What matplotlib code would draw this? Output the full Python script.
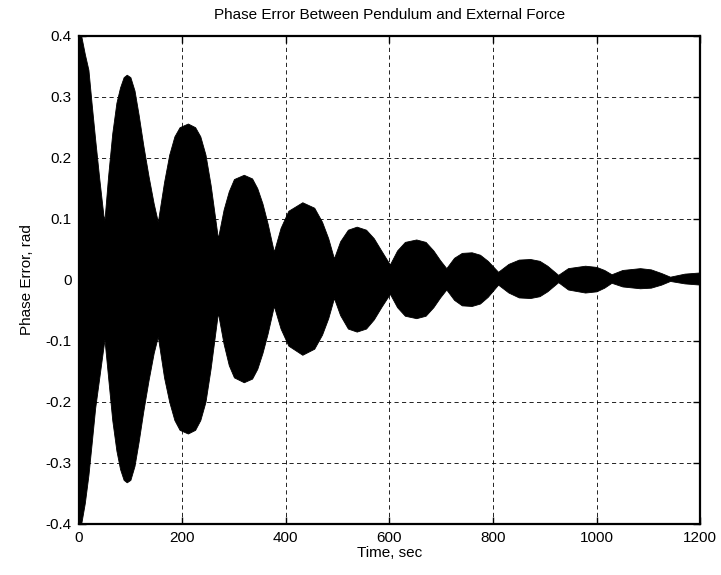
import numpy as np
import matplotlib
matplotlib.use('Agg')
import matplotlib.pyplot as plt

# Envelope of the phase error signal (time in sec, rad)
t_env = [0, 5, 12, 19, 25, 32, 40, 48, 50, 57, 65, 73, 80, 87, 93, 100, 108, 116, 125, 135, 145,
         153, 165, 175, 185, 195, 211, 225, 235, 245, 255,
         269, 280, 290, 300, 319, 335, 345, 355, 365,
         377, 390, 405, 432, 455, 470, 482,
         493, 505, 520, 537, 555, 570, 585,
         601, 615, 630, 652, 670, 685, 698,
         710, 725, 740, 759, 775, 790,
         810, 830, 850, 872, 890, 905,
         926, 945, 978, 1000, 1015,
         1029, 1050, 1084, 1105, 1125,
         1142, 1170, 1200]
upper = [0.40, 0.40, 0.37, 0.344, 0.29, 0.23, 0.165, 0.105, 0.098, 0.17, 0.24, 0.29, 0.315, 0.332, 0.336, 0.332, 0.31, 0.27, 0.22, 0.17, 0.125,
         0.095, 0.16, 0.205, 0.235, 0.25, 0.256, 0.25, 0.235, 0.205, 0.155,
         0.068, 0.115, 0.145, 0.165, 0.172, 0.166, 0.15, 0.125, 0.092,
         0.046, 0.085, 0.113, 0.127, 0.118, 0.095, 0.068,
         0.035, 0.063, 0.082, 0.087, 0.082, 0.068, 0.047,
         0.025, 0.048, 0.062, 0.066, 0.062, 0.048, 0.032,
         0.019, 0.036, 0.044, 0.045, 0.041, 0.031,
         0.013, 0.026, 0.033, 0.034, 0.031, 0.023,
         0.008, 0.019, 0.023, 0.021, 0.016,
         0.009, 0.016, 0.019, 0.017, 0.011,
         0.005, 0.01, 0.012]
lower = [-0.40, -0.40, -0.366, -0.32, -0.27, -0.21, -0.16, -0.11, -0.098, -0.16, -0.23, -0.28, -0.31, -0.328, -0.332, -0.328, -0.305, -0.265, -0.215, -0.165, -0.12,
         -0.093, -0.16, -0.2, -0.23, -0.246, -0.252, -0.246, -0.23, -0.2, -0.145,
         -0.054, -0.105, -0.14, -0.16, -0.168, -0.162, -0.146, -0.12, -0.088,
         -0.043, -0.08, -0.108, -0.123, -0.113, -0.09, -0.063,
         -0.030, -0.058, -0.08, -0.085, -0.08, -0.065, -0.044,
         -0.023, -0.045, -0.059, -0.063, -0.059, -0.045, -0.029,
         -0.016, -0.033, -0.042, -0.043, -0.039, -0.028,
         -0.008, -0.021, -0.029, -0.030, -0.027, -0.019,
         -0.004, -0.016, -0.021, -0.019, -0.013,
         -0.005, -0.011, -0.014, -0.013, -0.008,
         -0.002, -0.006, -0.008]

x_ticks = [0, 200, 400, 600, 800, 1000, 1200]
y_ticks = [-0.4, -0.3, -0.2, -0.1, 0, 0.1, 0.2, 0.3, 0.4]
y_labels = ['-0.4', '-0.3', '-0.2', '-0.1', '0', '0.1', '0.2', '0.3', '0.4']

plt.rcParams['font.family'] = ['Liberation Sans', 'DejaVu Sans']
plt.rcParams['font.size'] = 11

fig = plt.figure(figsize=(7.21, 5.75), dpi=100)
ax = fig.add_axes([0.109, 0.089, 0.862, 0.849])

ax.fill_between(t_env, lower, upper, color='black', linewidth=0.6, zorder=2)

ax.set_xlim(0, 1200)
ax.set_ylim(-0.4, 0.4)
ax.set_xticks(x_ticks)
ax.set_yticks(y_ticks)
ax.set_yticklabels(y_labels)
ax.tick_params(direction='in', length=5, width=1, top=True, right=True, pad=5)
for sp in ax.spines.values():
    sp.set_linewidth(1.6)

ax.grid(True, color='black', linestyle=(0, (5, 4)), linewidth=0.6)
ax.set_axisbelow(True)

ax.set_title('Phase Error Between Pendulum and External Force', fontsize=11, pad=12)
ax.set_xlabel('Time, sec', labelpad=1)
ax.set_ylabel('Phase Error, rad', labelpad=8)

fig.savefig('out.png', dpi=100)
